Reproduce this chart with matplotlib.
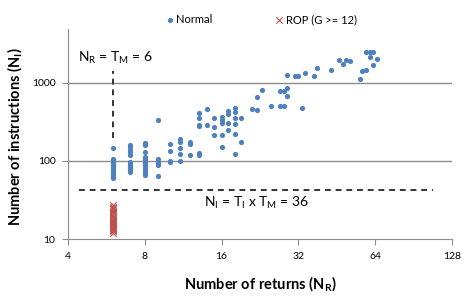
import numpy as np
import matplotlib.pyplot as plt
from matplotlib.ticker import FixedLocator, NullLocator, FixedFormatter

plt.rcParams['font.family'] = ['Lato', 'DejaVu Sans']

# normal programs: (number of returns, number of instructions)
normal_x = [6]*13 + [7]*11 + [8]*13 + [9]*6 + [10]*4 + [11]*5 + [12]*3 + [13]*6 \
    + [14]*2 + [15]*3 + [16]*5 + [17]*4 + [18]*6 + [19]*2 + [21] + [22]*2 + [23] \
    + [25] + [27]*2 + [28]*2 + [29]*3 + [31, 32, 33, 34, 37, 38, 43, 46, 48, 49, 51, 56, 57] \
    + [59]*2 + [61]*2 + [63]*2 + [65]
normal_y = [145, 105, 100, 96, 92, 88, 84, 80, 76, 72, 68, 64, 60,
            160, 150, 140, 130, 120, 97, 92, 87, 82, 77, 73,
            170, 160, 130, 113, 106, 100, 95, 90, 85, 80, 75, 70, 66,
            330, 106, 100, 95, 90, 64,
            166, 134, 100, 98,
            191, 174, 147, 123, 101,
            175, 165, 119,
            412, 359, 292, 281, 127, 120,
            464, 285,
            354, 276, 216,
            364, 335, 305, 216, 151,
            440, 400, 305, 252,
            472, 420, 356, 297, 223, 122,
            352, 177,
            463,
            450, 667,
            815,
            507,
            507, 780,
            507, 780,
            870, 683, 1256,
            1235, 1235, 474, 1330, 1230, 1540, 1470, 1970, 1750, 1970, 1920, 1130, 1400,
            1460, 2500,
            2500, 2170,
            2500, 1700,
            2010]

# ROP chains (G >= 12)
rop_y = [12, 12.5, 13, 13.5, 14, 14.5, 15, 15.5, 16, 16.5, 17, 17.5, 18, 19, 20,
         21, 22, 23, 24, 25, 26, 27]
rop_x = [6]*len(rop_y)

xticks = [4, 8, 16, 32, 64, 128]
yticks = [10, 100, 1000]

blue = '#4F81BD'
red = '#C0504D'

fig = plt.figure(figsize=(4.71, 3.0), dpi=100)
ax = fig.add_axes([0.1444, 0.2033, 0.815, 0.70])

ax.set_xscale('log', base=2)
ax.set_yscale('log')
ax.set_xlim(4, 128)
ax.set_ylim(10, 4900)

for yy in [100, 1000]:
    ax.axhline(yy, color='#8c8c8c', lw=1, zorder=0)

ax.scatter(normal_x, normal_y, s=14, color=blue, label='Normal', zorder=3, linewidths=0)
ax.scatter(rop_x, rop_y, s=22, color=red, marker='x', label='ROP (G >= 12)', zorder=3, linewidths=0.8)

ax.plot([4.42, 108], [42.5, 42.5], color='#333333', lw=1.4, ls=(0, (3, 2.5)), zorder=2)
ax.plot([6, 6], [197, 1425], color='#333333', lw=1.4, ls=(0, (3, 2.5)), zorder=2)

ax.text(0.026, 0.843, r'N$_\mathregular{R}$ = T$_\mathregular{M}$ = 6', transform=ax.transAxes,
        fontsize=10, va='baseline', ha='left')
ax.text(0.354, 0.171, r'N$_\mathregular{I}$ = T$_\mathregular{I}$ x T$_\mathregular{M}$ = 36',
        transform=ax.transAxes, fontsize=10, va='center', ha='left')

ax.xaxis.set_major_locator(FixedLocator(xticks))
ax.xaxis.set_major_formatter(FixedFormatter([str(v) for v in xticks]))
ax.xaxis.set_minor_locator(NullLocator())
ax.yaxis.set_major_locator(FixedLocator(yticks))
ax.yaxis.set_major_formatter(FixedFormatter([str(v) for v in yticks]))
ax.yaxis.set_minor_locator(NullLocator())

ax.tick_params(direction='out', length=4, width=0.8, color='#8c8c8c', labelsize=7.5, pad=5)
for side in ['top', 'right']:
    ax.spines[side].set_visible(False)
for side in ['left', 'bottom']:
    ax.spines[side].set_color('#8c8c8c')

ax.set_xlabel(r'Number of returns (N$_\mathregular{R}$)', fontsize=10.5, fontweight='bold', labelpad=10)
ax.set_ylabel(r'Number of instructions (N$_\mathregular{I}$)', fontsize=10.5, fontweight='bold')
ax.yaxis.set_label_coords(-0.112, 0.49)

fig.legend(loc='center', bbox_to_anchor=(0.553, 0.935), ncol=2, frameon=False, fontsize=8,
           handletextpad=0.1, columnspacing=5.5, handlelength=1.0)

fig.savefig('out.png', dpi=100)
